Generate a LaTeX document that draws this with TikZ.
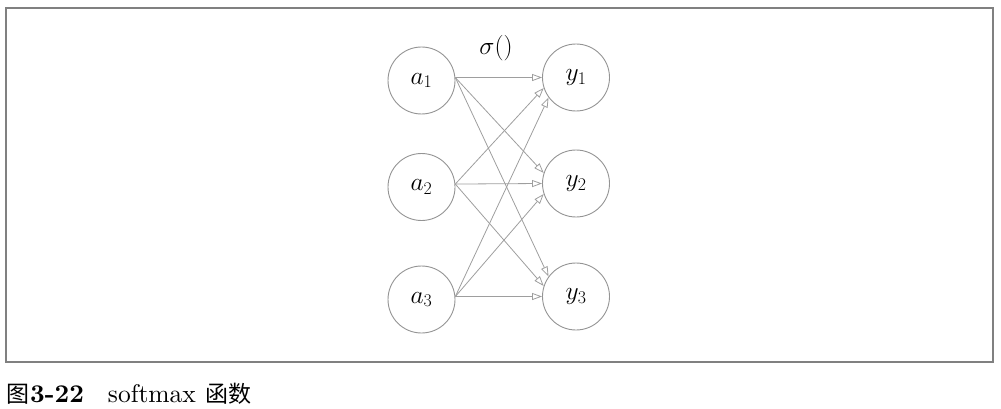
\RequirePackage{fix-cm}
\documentclass[tikz,border=0pt]{standalone}
\usepackage{fontspec}
\setmainfont{lmroman10-regular.otf}[BoldFont=lmroman10-bold.otf]
\newfontfamily\cjk{Noto Sans CJK SC}
\usetikzlibrary{arrows.meta}
\tikzset{
  neuron/.style={circle, draw=black!42, line width=0.9pt, minimum size=67pt, inner sep=0pt, font=\fontsize{25.5}{30}\selectfont},
  conn/.style={draw=black!38, line width=0.8pt, -{Triangle[open,length=10pt,width=7pt]}},
  frame/.style={draw=black!50, line width=2pt},
}
\begin{document}
\begin{tikzpicture}[x=1pt,y=-1pt]
\useasboundingbox (0,0) rectangle (1001,409);
\draw[frame] (6,8) rectangle (993,362);
\node[neuron] (a1) at (421.5,80.5) {$a_1$};
\node[neuron] (a2) at (421.5,187) {$a_2$};
\node[neuron] (a3) at (421.5,299.5) {$a_3$};
\node[neuron] (y1) at (576,77.5) {$y_1$};
\node[neuron] (y2) at (576,183.5) {$y_2$};
\node[neuron] (y3) at (576,296.5) {$y_3$};
\node[font=\fontsize{25.5}{30}\selectfont] (sig) at (496,48) {$\sigma()$};
% arrows
\draw[conn] (a1.5) -- (y1.180);
\draw[conn] (a1.5) -- (y2.162);
\draw[conn] (a1.5) -- (y3.144);
\draw[conn] (a2.5) -- (y1.198);
\draw[conn] (a2.5) -- (y2.180);
\draw[conn] (a2.5) -- (y3.162);
\draw[conn] (a3.5) -- (y1.216);
\draw[conn] (a3.5) -- (y2.198);
\draw[conn] (a3.5) -- (y3.180);
\node[anchor=base west, inner sep=0pt, font=\fontsize{25.5}{30}\selectfont] (cap) at (6,402)
  {{\cjk\fontsize{23}{28}\selectfont 图}\hspace{1pt}\textbf{3-22}\hspace{24pt}softmax\hspace{10pt}{\cjk\fontsize{23}{28}\selectfont 函数}};
\end{tikzpicture}
\end{document}
